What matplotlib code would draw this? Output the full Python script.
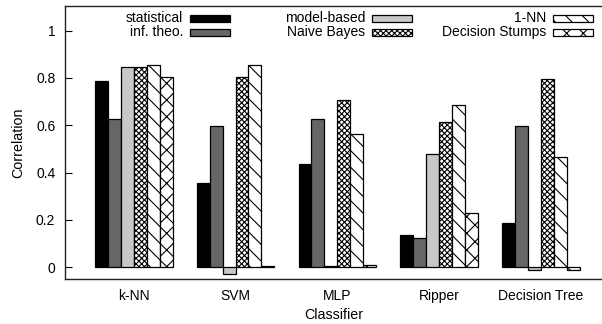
import numpy as np
import matplotlib
matplotlib.use('Agg')
import matplotlib.pyplot as plt
from matplotlib.patches import Rectangle

classifiers = ['k-NN', 'SVM', 'MLP', 'Ripper', 'Decision Tree']
series = ['statistical', 'inf. theo.', 'model-based', 'Naive Bayes', '1-NN', 'Decision Stumps']

statistical = [0.785, 0.355, 0.435, 0.135, 0.185]
inf_theo = [0.625, 0.598, 0.625, 0.125, 0.595]
model_based = [0.845, -0.027, 0.004, 0.48, -0.012]
naive_bayes = [0.845, 0.805, 0.708, 0.615, 0.795]
one_nn = [0.855, 0.855, 0.565, 0.685, 0.465]
stumps = [0.805, 0.003, 0.01, 0.23, -0.01]

values = [statistical, inf_theo, model_based, naive_bayes, one_nn, stumps]
colors = ['#000000', '#666666', '#c8c8c8', 'white', 'white', 'white']
hatches = [None, None, None, 'xxxxxx', '\\\\', 'xx']

plt.rcParams['font.family'] = ['Liberation Sans', 'DejaVu Sans']
plt.rcParams['hatch.linewidth'] = 0.8

fig = plt.figure(figsize=(6.02, 3.24), dpi=100)
ax = fig.add_axes([65/602, 1-279/324, 537/602, 273/324])

x = np.arange(len(classifiers))
w = 0.127
for i in range(len(series)):
    ax.bar(x + (i - 2.5) * w, values[i], w, color=colors[i], hatch=hatches[i],
           edgecolor='black', linewidth=0.9)

ax.set_ylim(-0.05, 1.104)
ax.set_xlim(-0.675, 4.6)
ax.set_yticks([0, 0.2, 0.4, 0.6, 0.8, 1])
ax.set_yticklabels(['0', '0.2', '0.4', '0.6', '0.8', '1'])
ax.set_xticks(x)
ax.set_xticklabels(classifiers)
ax.tick_params(axis='y', direction='in', length=5, labelsize=10, pad=7, width=0.8)
ax.tick_params(axis='x', length=0, labelsize=10, pad=7)
ax.set_xlabel('Classifier', fontsize=10.3, labelpad=4)
ax.set_ylabel('Correlation', fontsize=10.3, labelpad=8)
ax.spines['right'].set_visible(False)
for s in ['left', 'top', 'bottom']:
    ax.spines[s].set_linewidth(1.0)
    ax.spines[s].set_color('#222222')

# gnuplot-style key: label right-aligned before the swatch
swatch_x = [190, 372, 553]
row_y = [18, 32]
for i in range(len(series)):
    col, row = i // 2, i % 2
    sx = swatch_x[col] / 602
    sy = 1 - row_y[row] / 324
    r = Rectangle((sx, sy - 3.5 / 324), 40 / 602, 7 / 324, transform=fig.transFigure,
                  facecolor=colors[i], hatch=hatches[i], edgecolor='black', linewidth=0.9)
    fig.patches.append(r)
    fig.text(sx - 7 / 602, sy, series[i], ha='right', va='center', fontsize=10)

fig.savefig('out.png', dpi=100)
